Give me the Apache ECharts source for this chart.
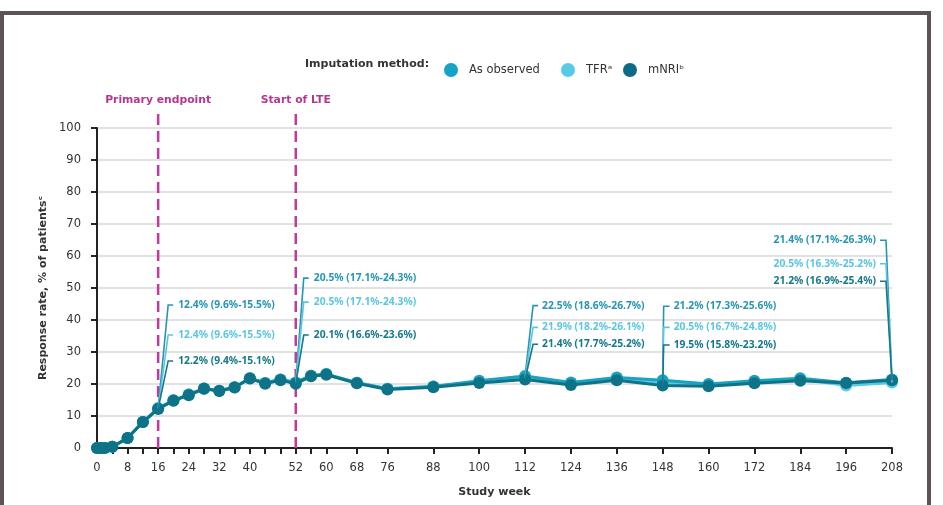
<!DOCTYPE html>
<html>
<head>
<meta charset="utf-8">
<script src="https://cdn.jsdelivr.net/npm/echarts@6/dist/echarts.min.js"></script>
<style>html,body{margin:0;padding:0;background:#fff}#c{width:943px;height:505px}</style>
</head>
<body>
<div id="c"></div>
<script>
// ---- data ----
const weeks = [0,1,2,4,8,12,16,20,24,28,32,36,40,44,48,52,56,60,68,76,88,100,112,124,136,148,160,172,184,196,208];
const asObserved = [0,0,0,0.4,3.1,8.1,12.4,14.9,16.7,18.6,17.9,19.0,21.8,20.3,21.4,20.5,22.6,23.1,20.4,18.5,19.2,21.0,22.5,20.5,22.0,21.2,20.0,21.0,21.8,20.4,21.4];
const tfr = [0,0,0,0.4,3.1,8.1,12.4,14.9,16.7,18.6,17.9,19.0,21.8,20.3,21.4,20.5,22.6,23.1,20.4,18.5,19.2,20.7,21.9,20.2,21.8,20.5,19.6,20.6,21.6,19.5,20.5];
const mnri = [0,0,0,0.4,3.1,8.1,12.2,14.8,16.5,18.5,17.8,18.9,21.7,20.1,21.2,20.1,22.4,22.9,20.2,18.3,19.0,20.3,21.4,19.7,21.2,19.5,19.3,20.2,21.0,20.3,21.2];
const seriesNames = ['As observed', 'TFR\u1d43', 'mNRI\u1d47'];
const tickWeeks = [0,4,8,12,16,20,24,28,32,36,40,44,48,52,56,60,68,76,88,100,112,124,136,148,160,172,184,196,208];
const labelWeeks = [0,8,16,24,32,40,52,60,68,76,88,100,112,124,136,148,160,172,184,196,208];
const markerWeeks = [16, 52];
const markerLabels = ['Primary endpoint', 'Start of LTE'];
const annoWeeks = [16, 52, 112, 148, 208];
const annoAsObserved = ['12.4% (9.6%-15.5%)','20.5% (17.1%-24.3%)','22.5% (18.6%-26.7%)','21.2% (17.3%-25.6%)','21.4% (17.1%-26.3%)'];
const annoTfr = ['12.4% (9.6%-15.5%)','20.5% (17.1%-24.3%)','21.9% (18.2%-26.1%)','20.5% (16.7%-24.8%)','20.5% (16.3%-25.2%)'];
const annoMnri = ['12.2% (9.4%-15.1%)','20.1% (16.6%-23.6%)','21.4% (17.7%-25.2%)','19.5% (15.8%-23.2%)','21.2% (16.9%-25.4%)'];

// ---- layout / style (not data) ----
const annoLabelLevels = [ // label heights in y-axis units for [asObs, tfr, mnri]
  [44.7, 35.3, 27.2],
  [53.1, 45.6, 35.3],
  [44.5, 37.7, 32.4],
  [44.3, 37.7, 32.2],
  [64.9, 57.6, 52.1]
];
const annoOffsets = [ // [bendDx, tickDx, textDx, align]
  [10, 15, 20, 'left'],
  [8, 13, 18, 'left'],
  [8, 13, 17, 'left'],
  [1, 7, 11, 'left'],
  [-6, -12, -16, 'right']
];
const legendLefts = [439, 556, 618];
const lineColors = ['#1aa2c2', '#55c9e6', '#0e7387'];
const legendColors = ['#13a3c4', '#56cbe8', '#0b6a86'];
const labelColors = ['#2796b5', '#5cc6e2', '#15788b'];
const FONT = '"DejaVu Sans", sans-serif';
const ANNO_FONT = 'bold 10.3px "Noto Sans", sans-serif';

const chart = echarts.init(document.getElementById('c'), null, {renderer: 'canvas'});
const allVals = [asObserved, tfr, mnri];
const annoTexts = [annoAsObserved, annoTfr, annoMnri];

function lineSeries(i, z) {
  return {
    name: seriesNames[i], type: 'line', z: z,
    data: weeks.map((w, k) => [w, allVals[i][k]]),
    symbol: 'circle', symbolSize: 12, showSymbol: true,
    lineStyle: {color: lineColors[i], width: 3},
    itemStyle: {color: lineColors[i]},
    emphasis: {disabled: true}, animation: false
  };
}

const option = {
  animation: false,
  textStyle: {fontFamily: FONT},
  grid: {left: 97, right: 51, top: 128, bottom: 57, containLabel: false},
  legend: seriesNames.map((n, i) => ({
    left: legendLefts[i], top: 58, itemWidth: 26, itemHeight: 14,
    icon: 'circle', selectedMode: false,
    data: [{name: n, itemStyle: {color: legendColors[i]}}],
    textStyle: {fontFamily: FONT, fontSize: 11.5, color: '#333'}
  })),
  graphic: [
    {type: 'text', left: 305, top: 59, style: {text: 'Imputation method:', font: 'bold 11px ' + FONT, fill: '#333'}},
    {type: 'rect', shape: {x: 2, y: 13, width: 927, height: 500}, style: {fill: 'none', stroke: '#5d5354', lineWidth: 4}, z: 100}
  ],
  xAxis: {
    type: 'value', min: 0, max: 208,
    name: 'Study week', nameLocation: 'middle', nameGap: 39,
    nameTextStyle: {fontFamily: FONT, fontWeight: 'bold', fontSize: 11, color: '#333'},
    axisLine: {lineStyle: {color: '#222', width: 2}},
    axisTick: {show: true, customValues: tickWeeks, length: 6, lineStyle: {color: '#222', width: 2}},
    axisLabel: {customValues: labelWeeks, fontSize: 11.5, color: '#333', margin: 14},
    splitLine: {show: false}
  },
  yAxis: {
    type: 'value', min: 0, max: 100, interval: 10,
    name: 'Response rate, % of patients\u1d9c', nameLocation: 'middle', nameGap: 47,
    nameTextStyle: {fontFamily: FONT, fontWeight: 'bold', fontSize: 11, color: '#333'},
    axisLine: {show: true, lineStyle: {color: '#222', width: 2}},
    axisTick: {show: true, length: 6, lineStyle: {color: '#222', width: 2}},
    axisLabel: {fontSize: 11.5, color: '#333', margin: 16},
    splitLine: {show: true, lineStyle: {color: '#e2e2e2', width: 2}}
  },
  series: [
    {
      type: 'custom', z: 1, clip: false, silent: true,
      data: markerWeeks.map(w => [w, 0]),
      encode: {x: 0, y: 1},
      renderItem: function (params, api) {
        const w = api.value(0);
        const p0 = api.coord([w, 0]);
        const p1 = api.coord([w, 100]);
        return {type: 'group', children: [
          {type: 'line', shape: {x1: p0[0], y1: p0[1], x2: p0[0], y2: p1[1] - 16},
           style: {stroke: '#c23b9c', lineWidth: 2.5, lineDash: [11, 6]}},
          {type: 'text', x: p0[0], y: p1[1] - 28,
           style: {text: markerLabels[params.dataIndex], font: 'bold 10.8px ' + FONT, fill: '#b5378e', align: 'center', verticalAlign: 'middle'}}
        ]};
      }
    },
    lineSeries(1, 2),
    lineSeries(0, 3),
    lineSeries(2, 4),
    {
      type: 'custom', z: 5, clip: false, silent: true,
      data: annoWeeks.map(w => { const k = weeks.indexOf(w); return [w, asObserved[k], tfr[k], mnri[k]]; }),
      encode: {x: 0, y: 1},
      renderItem: function (params, api) {
        const idx = params.dataIndex;
        const w = api.value(0);
        const off = annoOffsets[idx];
        const children = [];
        for (let s = 0; s < 3; s++) {
          const p = api.coord([w, api.value(1 + s)]);
          const ly = api.coord([w, annoLabelLevels[idx][s]])[1];
          children.push({type: 'polyline', shape: {points: [[p[0], p[1]], [p[0] + off[0], ly], [p[0] + off[1], ly]]},
            style: {stroke: labelColors[s], lineWidth: 1.6, fill: 'none'}});
          children.push({type: 'text', x: p[0] + off[2], y: ly,
            style: {text: annoTexts[s][idx], font: ANNO_FONT, fill: labelColors[s], align: off[3], verticalAlign: 'middle'}});
        }
        return {type: 'group', children: children};
      }
    }
  ]
};
chart.setOption(option);
</script>
</body>
</html>
